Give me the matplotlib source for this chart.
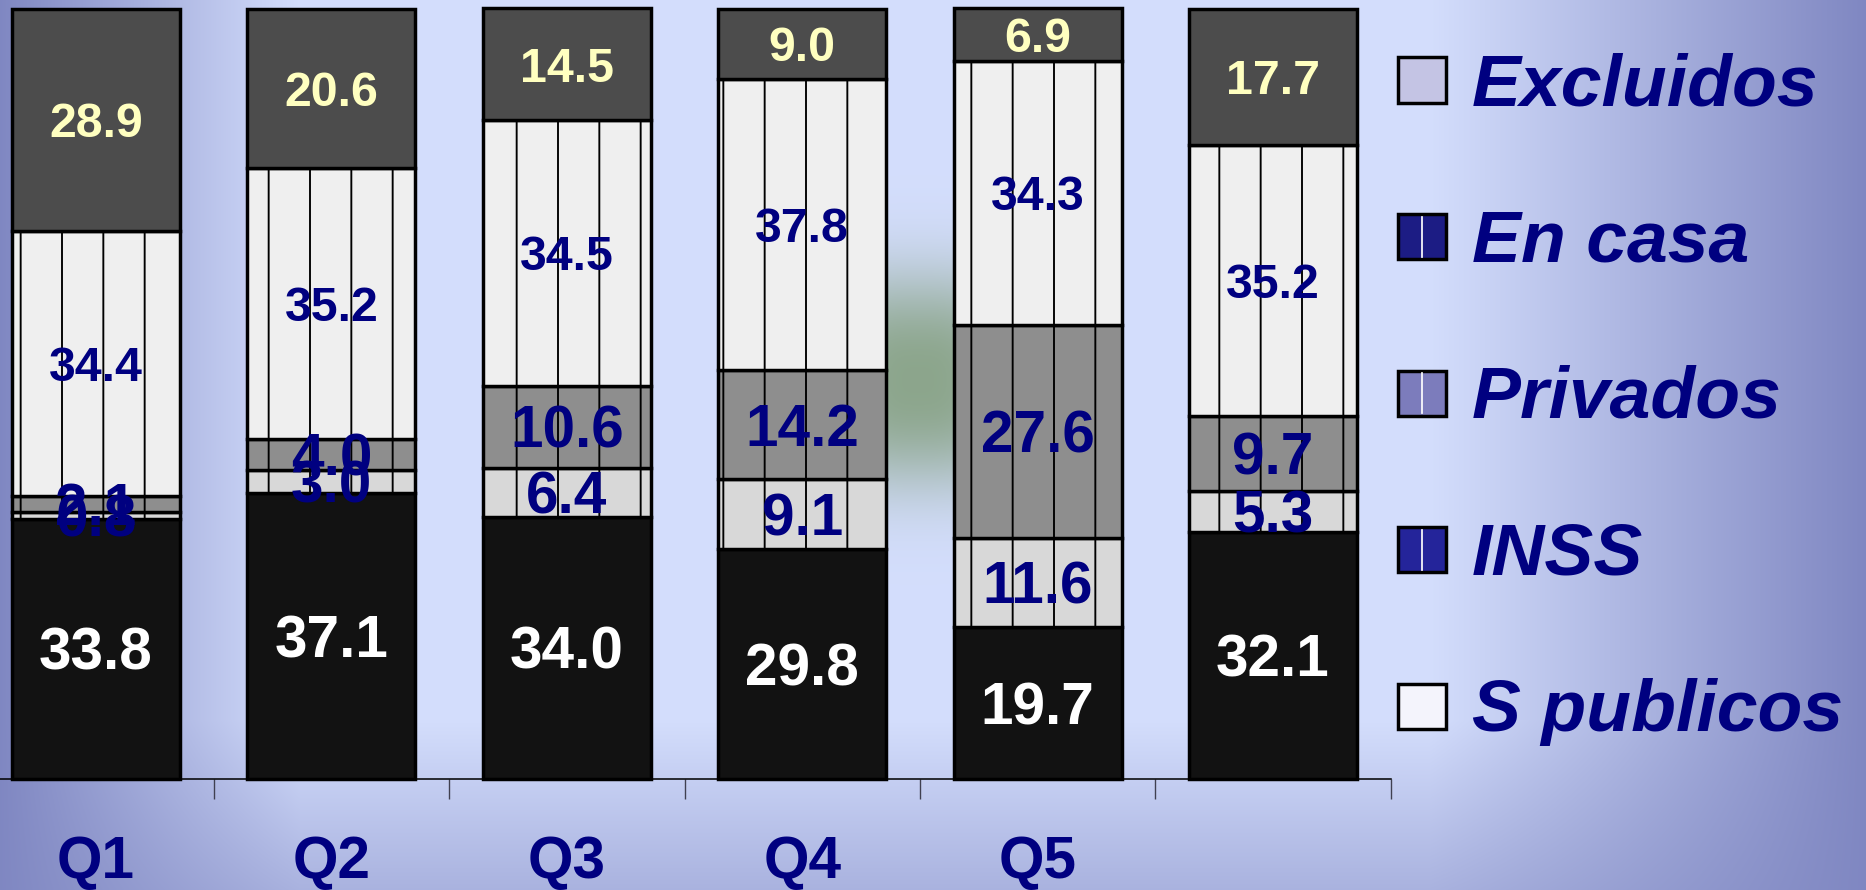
import numpy as np
import matplotlib
matplotlib.use('Agg')
import matplotlib.pyplot as plt
from matplotlib.patches import Rectangle
from matplotlib.lines import Line2D
from matplotlib.transforms import blended_transform_factory

# ---------------- data ----------------
categories = ['Q1', 'Q2', 'Q3', 'Q4', 'Q5', '']
seg_bottom = [33.8, 37.1, 34.0, 29.8, 19.7, 32.1]
seg_light = [0.8, 3.0, 6.4, 9.1, 11.6, 5.3]
seg_gray = [2.1, 4.0, 10.6, 14.2, 27.6, 9.7]
seg_white = [34.4, 35.2, 34.5, 37.8, 34.3, 35.2]
seg_top = [28.9, 20.6, 14.5, 9.0, 6.9, 17.7]
legend_labels = ['Excluidos', 'En casa', 'Privados', 'INSS', 'S publicos']

# ---------------- setup ----------------
DPI = 248
W, H = 1866, 890
plt.rcParams['font.family'] = ['Liberation Sans', 'DejaVu Sans']
plt.rcParams['hatch.linewidth'] = 0.55
NAVY = '#000080'
YELLOW = '#FFFFC0'
LARGE = 17.0
MED = 14.0

fig = plt.figure(figsize=(W / DPI, H / DPI), dpi=DPI)

# background gradient
bg = fig.add_axes([0, 0, 1, 1], zorder=-10)
X, Y = np.meshgrid(np.arange(W) + 0.5, np.arange(H) + 0.5)
tx = np.zeros_like(X)
tx = np.where(X < 300, (300 - X) / 300, tx)
tx = np.where(X > 1430, (X - 1430) / 436, tx)
ty = np.clip((Y - 720) / 170, 0, 1) * 0.5
t = 1 - (1 - tx) * (1 - ty)
light = np.array([0.83, 0.87, 0.99])
dark = np.array([0.50, 0.53, 0.76])
img = light * (1 - t[..., None]) + dark * t[..., None]
g = np.exp(-(((X - 918) / 70) ** 2 / 2) ** 1.5 - (((Y - 380) / 75) ** 2 / 2) ** 1.3)
green = np.array([0.55, 0.65, 0.55])
img = img * (1 - g[..., None]) + green * g[..., None]
bg.imshow(img, aspect='auto', interpolation='bilinear')
bg.set_axis_off()

# main axes
left = -21.7 / W
right = 1390.7 / W
bottom = (H - 779) / H
top = (H - 8.5) / H
ax = fig.add_axes([left, bottom, right - left, top - bottom])
ax.patch.set_alpha(0)
x = np.arange(len(categories))
ax.set_xlim(-0.5, len(categories) - 0.5)
ax.set_ylim(0, 100)

layers = [
    (seg_bottom, '#121212', '', 'white', LARGE),
    (seg_light, '#d8d8d8', '|', NAVY, LARGE),
    (seg_gray, '#8e8e8e', '|', NAVY, LARGE),
    (seg_white, '#efefef', '|', NAVY, MED),
    (seg_top, '#4c4c4c', '', YELLOW, MED),
]
base = np.zeros(len(categories))
for vals, fc, hatch, tc, fs in layers:
    vals = np.asarray(vals)
    ax.bar(x, vals, 0.714, bottom=base, color=fc, edgecolor='black',
           linewidth=1.0, hatch=hatch, clip_on=False, zorder=2)
    for xi, b, v in zip(x, base, vals):
        ax.annotate(f'{v:.1f}', xy=(xi, b + v / 2), xytext=(0, -0.358 * fs),
                    textcoords='offset points', ha='center', va='baseline',
                    fontsize=fs, fontweight='bold', color=tc, zorder=5)
    base += vals

ax.set_yticks([])
ax.set_xticks(x + 0.5)
ax.set_xticklabels([])
ax.tick_params(axis='x', length=20 / DPI * 72, width=0.4, color='#404050')
for s in ['left', 'right', 'top']:
    ax.spines[s].set_visible(False)
ax.spines['bottom'].set_linewidth(0.45)
ax.spines['bottom'].set_zorder(3)

trans = blended_transform_factory(ax.transData, fig.transFigure)
for xi, lab in zip(x, categories):
    ax.text(xi, 12 / H, lab, transform=trans, ha='center', va='baseline',
            fontsize=17, fontweight='bold', color=NAVY)

# legend (manual)
leg_colors = ['#c4c4e4', '#1c1c84', '#7c7cbc', '#24249a', '#f4f4fc']
for i, lab in enumerate(legend_labels):
    cy = 80 + i * 156.5
    rect = Rectangle((1398 / W, 1 - (cy + 22.5) / H), 48 / W, 45 / H,
                     transform=fig.transFigure, facecolor=leg_colors[i],
                     edgecolor='black', lw=1.0)
    fig.add_artist(rect)
    if i in (1, 2, 3):
        fig.add_artist(Line2D([1422 / W, 1422 / W],
                              [1 - (cy + 20) / H, 1 - (cy - 20) / H],
                              transform=fig.transFigure, color='white', lw=0.5))
    fig.text(1472 / W, 1 - (cy + 25) / H, lab, fontsize=21.3,
             fontstyle='italic', fontweight='bold', color=NAVY, va='baseline')

fig.savefig('out.png', dpi=DPI)
